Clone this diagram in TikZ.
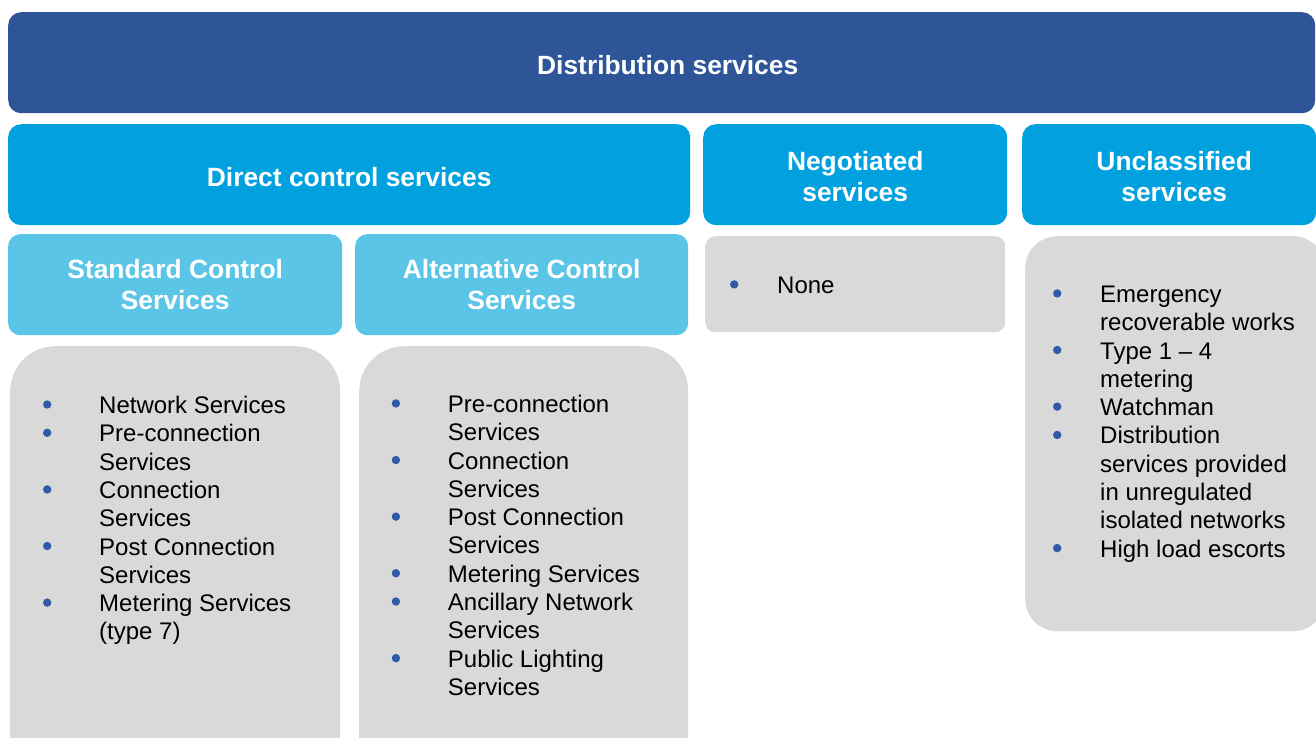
\documentclass[tikz,border=0pt]{standalone}
\usepackage{fontspec}
\setmainfont{Liberation Sans}
\definecolor{navy}{HTML}{2D5597}
\definecolor{cyanhead}{HTML}{00A1DE}
\definecolor{lightcyan}{HTML}{5BC5E8}
\definecolor{boxgray}{HTML}{D9D9D9}
\definecolor{bulc}{HTML}{2F5AA5}
\newcommand{\bulletdot}{\raisebox{4.8pt}{\tikz\fill[bulc] (0pt,0pt) circle (4.2pt);}}
\newcommand{\bl}[2][56.2pt]{\makebox[#1][l]{\bulletdot}#2\strut}
\newcommand{\cl}[2][56.2pt]{\hspace*{#1}#2\strut}
\newcommand{\hsup}{\rule{0pt}{23pt}}
\tikzset{
  hdr/.style={rectangle, rounded corners=#1, inner sep=0pt, anchor=north west,
    text=white, font=\fontsize{26.4pt}{31pt}\selectfont\bfseries, align=center},
  hdr/.default=13pt,
  graybox/.style={rectangle, rounded corners=#1, inner sep=0pt, anchor=north west, fill=boxgray},
  graybox/.default=45pt,
  listtext/.style={inner sep=0pt, anchor=north west, align=left, text=black,
    font=\fontsize{24pt}{28.3pt}\selectfont}
}
\begin{document}
\begin{tikzpicture}[x=1pt,y=-1pt]
\useasboundingbox (0,0) rectangle (1316,737);
\clip (0,0) rectangle (1316,737);
% top
\node[hdr, fill=navy, minimum width=1307pt, minimum height=101pt] (dist) at (8,12) {\hsup\hspace*{12pt}Distribution services};
% second row
\node[hdr, fill=cyanhead, minimum width=682pt, minimum height=101pt] (direct) at (8,124) {\hsup Direct control services};
\node[hdr, fill=cyanhead, minimum width=304pt, minimum height=101pt] (nego) at (703,124) {\hsup Negotiated\\services};
\node[hdr, fill=cyanhead, minimum width=294pt, minimum height=101pt] (uncl) at (1022,124) {\hsup\hspace*{10pt}Unclassified\\\hspace*{10pt}services};
% third row
\node[hdr=12pt, fill=lightcyan, minimum width=334pt, minimum height=101pt] (std) at (8,234) {Standard Control\\Services};
\node[hdr=12pt, fill=lightcyan, minimum width=333pt, minimum height=101pt] (alt) at (355,234) {Alternative Control\\Services};
\node[graybox=10pt, minimum width=300pt, minimum height=96pt] (nonebox) at (705,236) {};
\node[graybox=32pt, minimum width=300pt, minimum height=395pt] (unclbox) at (1025,236) {};
% list boxes
\node[graybox, minimum width=330pt, minimum height=440pt] (stdbox) at (10,346) {};
\node[graybox, minimum width=329pt, minimum height=440pt] (altbox) at (359,346) {};
% list texts
\node[listtext] (stdlist) at (42.8,393.5) {%
\bl{Network Services}\\
\bl{Pre-connection}\\
\cl{Services}\\
\bl{Connection}\\
\cl{Services}\\
\bl{Post Connection}\\
\cl{Services}\\
\bl{Metering Services}\\
\cl{(type 7)}};
\node[listtext] (altlist) at (391.5,392.4) {%
\bl{Pre-connection}\\
\cl{Services}\\
\bl{Connection}\\
\cl{Services}\\
\bl{Post Connection}\\
\cl{Services}\\
\bl{Metering Services}\\
\bl{Ancillary Network}\\
\cl{Services}\\
\bl{Public Lighting}\\
\cl{Services}};
\node[listtext] (nonelist) at (729.8,273.4) {\bl[47.2pt]{None}};
\node[listtext] (uncllist) at (1052.8,282.4) {%
\bl[47.2pt]{Emergency}\\
\cl[47.2pt]{recoverable works}\\
\bl[47.2pt]{Type 1 – 4}\\
\cl[47.2pt]{metering}\\
\bl[47.2pt]{Watchman}\\
\bl[47.2pt]{Distribution}\\
\cl[47.2pt]{services provided}\\
\cl[47.2pt]{in unregulated}\\
\cl[47.2pt]{isolated networks}\\
\bl[47.2pt]{High load escorts}};
\end{tikzpicture}
\end{document}
